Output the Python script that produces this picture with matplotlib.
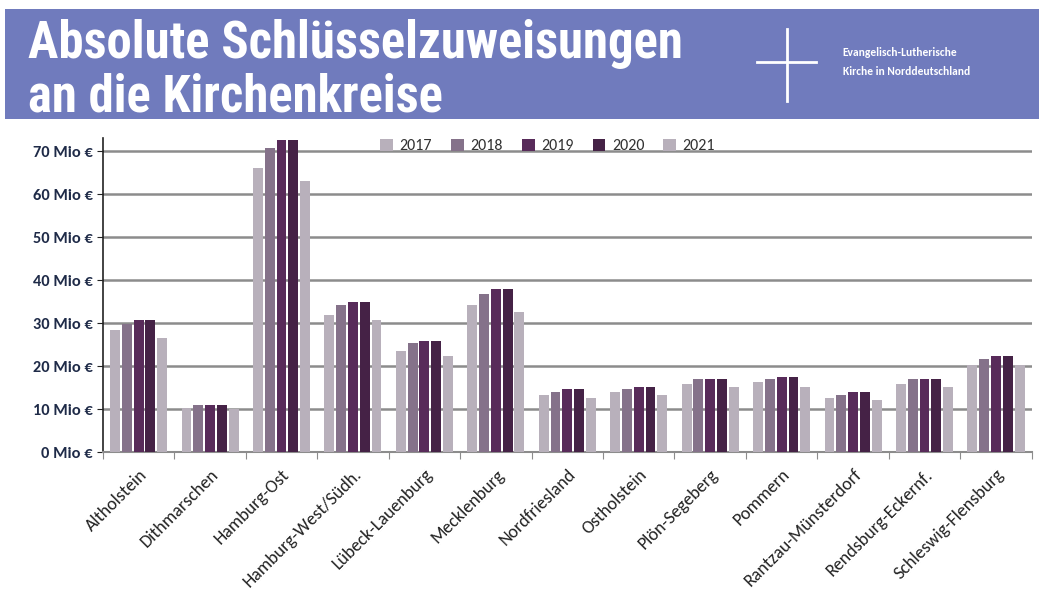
import numpy as np
import matplotlib.pyplot as plt
from matplotlib.patches import Rectangle

kreise = ["Altholstein", "Dithmarschen", "Hamburg-Ost", "Hamburg-West/Südh.",
          "Lübeck-Lauenburg", "Mecklenburg", "Nordfriesland", "Ostholstein",
          "Plön-Segeberg", "Pommern", "Rantzau-Münsterdorf", "Rendsburg-Eckernf.",
          "Schleswig-Flensburg"]
jahre = ["2017", "2018", "2019", "2020", "2021"]
w2017 = [28.4, 10.3, 66.1, 31.9, 23.6, 34.2, 13.4, 14.0, 15.8, 16.3, 12.7, 15.8, 20.4]
w2018 = [29.9, 10.9, 70.8, 34.3, 25.3, 36.7, 14.0, 14.6, 17.0, 17.0, 13.4, 17.0, 21.8]
w2019 = [30.7, 10.9, 72.6, 35.0, 25.9, 37.9, 14.6, 15.2, 17.0, 17.5, 14.0, 17.0, 22.4]
w2020 = [30.7, 10.9, 72.6, 35.0, 25.9, 37.9, 14.6, 15.2, 17.0, 17.5, 14.0, 17.0, 22.4]
w2021 = [26.6, 10.0, 63.0, 30.7, 22.4, 32.5, 12.7, 13.4, 15.2, 15.2, 12.1, 15.2, 20.4]
werte = [w2017, w2018, w2019, w2020, w2021]
farben = ["#b8b0bb", "#85728a", "#582b5a", "#452246", "#b8b0bb"]

schrift = ["Carlito", "Open Sans", "DejaVu Sans"]
titel_schrift = ["Roboto Condensed", "DejaVu Sans"]

fig = plt.figure(figsize=(10.39, 6.12), dpi=100)

# Kopfzeile
fig.patches.append(Rectangle((0.005, 0.805), 0.995, 0.18, transform=fig.transFigure,
                             facecolor="#707bbd", edgecolor="none", zorder=0))
fig.text(0.027, 0.905, "Absolute Schlüsselzuweisungen", color="white", fontsize=36.5,
         fontweight="bold", family=titel_schrift, va="baseline")
fig.text(0.027, 0.818, "an die Kirchenkreise", color="white", fontsize=36.5,
         fontweight="bold", family=titel_schrift, va="baseline")
fig.add_artist(plt.Line2D([0.757, 0.757], [0.835, 0.952], color="white", lw=2,
                          transform=fig.transFigure))
fig.add_artist(plt.Line2D([0.729, 0.785], [0.898, 0.898], color="white", lw=2,
                          transform=fig.transFigure))
fig.text(0.811, 0.915, "Evangelisch-Lutherische", color="white", fontsize=8.3,
         fontweight="bold", family=schrift, va="center")
fig.text(0.811, 0.883, "Kirche in Norddeutschland", color="white", fontsize=8.3,
         fontweight="bold", family=schrift, va="center")

ax = fig.add_axes([0.099, 0.261, 0.894, 0.513])
x = np.arange(len(kreise))
bw = 0.138
step = 0.165
for i, (jahr, vals) in enumerate(zip(jahre, werte)):
    ax.bar(x + (i - 2) * step, vals, width=bw, color=farben[i], label=jahr, zorder=3)

ax.set_xlim(-0.5, len(kreise) - 0.5)
ax.set_ylim(0, 73)
ax.set_yticks(range(0, 80, 10))
ax.set_yticklabels([f"{v} Mio €" for v in range(0, 80, 10)], fontsize=11.8,
                   fontweight="bold", color="#1f2b48", family=schrift)
ax.yaxis.grid(True, color="#8c8c8c", lw=1.8, zorder=0)
ax.set_xticks(np.arange(len(kreise) + 1) - 0.5)
ax.set_xticklabels([])
ax.set_xticks(x, minor=True)
ax.set_xticklabels(kreise, minor=True, rotation=45, ha="right", rotation_mode="anchor",
                   fontsize=13, color="#222222", family=schrift)
ax.tick_params(axis="x", which="minor", length=0, pad=10)
ax.tick_params(axis="x", which="major", length=5, color="#8c8c8c")
ax.tick_params(axis="y", length=4, color="#222222")
for s in ["top", "right"]:
    ax.spines[s].set_visible(False)
ax.spines["left"].set_color("#222222")
ax.spines["left"].set_linewidth(1.2)
ax.spines["bottom"].set_color("#8c8c8c")
ax.spines["bottom"].set_linewidth(1.5)

leg = ax.legend(loc="upper center", bbox_to_anchor=(0.479, 1.045), ncol=5, frameon=False,
                prop={"family": schrift, "size": 11.5}, handlelength=0.8,
                handleheight=0.8, handletextpad=0.4, columnspacing=1.2)
for t in leg.get_texts():
    t.set_color("#333333")

fig.savefig("out.png", dpi=100)
